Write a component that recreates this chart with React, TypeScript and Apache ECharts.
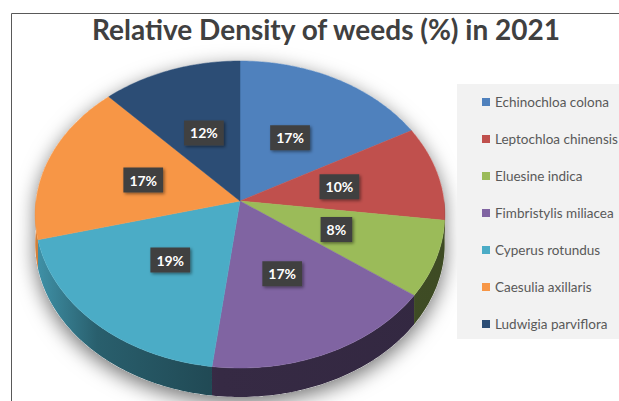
import React, { useEffect, useRef } from 'react';
import * as echarts from 'echarts';

const categories = [
  'Echinochloa colona',
  'Leptochloa chinensis',
  'Eluesine indica',
  'Fimbristylis miliacea',
  'Cyperus rotundus',
  'Caesulia axillaris',
  'Ludwigia parviflora',
];
const values = [17, 10, 8, 17, 19, 17, 12];
const colors = ['#4F81BD', '#C0504D', '#9BBB59', '#8064A2', '#4BACC6', '#F79646', '#2C4D75'];
const titleText = 'Relative Density of weeds (%) in 2021';

// layout of the tilted (perspective) pie
const CX = 240;
const CY = 201;
const RX = 204;
const RY = 152.3;
const K = 0.088;
const H = 29;
const LABEL_R = 0.5;

function proj(theta: number, r: number): [number, number] {
  const u = r * Math.sin(theta);
  const v = r * Math.cos(theta);
  const d = 1 + K * v;
  return [CX + (RX * u) / d, CY - (RY * v) / d];
}

function shade(hex: string, f: number): string {
  const n = parseInt(hex.slice(1), 16);
  const r = Math.round(((n >> 16) & 255) * f);
  const g = Math.round(((n >> 8) & 255) * f);
  const b = Math.round((n & 255) * f);
  return `rgb(${r},${g},${b})`;
}

function arcPoints(a0: number, a1: number, dy: number): number[][] {
  const pts: number[][] = [];
  const steps = Math.max(2, Math.ceil(((a1 - a0) * 180) / Math.PI));
  for (let i = 0; i <= steps; i++) {
    const a = a0 + ((a1 - a0) * i) / steps;
    const p = proj(a, 1);
    pts.push([p[0], p[1] + dy]);
  }
  return pts;
}

export default function App() {
  const ref = useRef<HTMLDivElement>(null);

  useEffect(() => {
    if (!ref.current) return;
    const chart = echarts.init(ref.current, undefined, { renderer: 'svg' });
    const total = values.reduce((s, v) => s + v, 0);
    const starts: number[] = [];
    let acc = 0;
    values.forEach((v) => {
      starts.push(acc);
      acc += v;
    });

    const renderItem = (params: any, api: any) => {
      const start = api.value(0);
      const val = api.value(1);
      const idx = params.seriesIndex;
      const color = colors[idx];
      const a0 = (start / total) * Math.PI * 2;
      const a1 = ((start + val) / total) * Math.PI * 2;
      const children: any[] = [];

      if (idx === 0) {
        const sil = [
          ...arcPoints(-Math.PI / 2, Math.PI / 2, 0),
          ...arcPoints(Math.PI / 2, (3 * Math.PI) / 2, H),
        ];
        children.push({
          type: 'polygon',
          z2: -10,
          shape: { points: sil },
          style: {
            fill: '#ffffff',
            shadowBlur: 20,
            shadowColor: 'rgba(0,0,0,0.55)',
            shadowOffsetY: 6,
          },
        });
      }

      const w0 = Math.max(a0, Math.PI / 2);
      const w1 = Math.min(a1, (3 * Math.PI) / 2);
      if (w1 > w0) {
        const top = arcPoints(w0, w1, 0);
        const bottom = arcPoints(w0, w1, H).reverse();
        children.push({
          type: 'polygon',
          z2: 1,
          shape: { points: [...top, ...bottom] },
          style: {
            fill: new echarts.graphic.LinearGradient(
              CX - RX,
              0,
              CX + RX,
              0,
              [
                { offset: 0, color: shade(color, 0.85) },
                { offset: 0.15, color: shade(color, 0.55) },
                { offset: 0.45, color: shade(color, 0.42) },
                { offset: 1, color: shade(color, 0.4) },
              ],
              true
            ),
            stroke: null,
          },
        });
      }

      const face = [[CX, CY], ...arcPoints(a0, a1, 0)];
      children.push({
        type: 'polygon',
        z2: 5,
        shape: { points: face },
        style: { fill: color, stroke: color, lineWidth: 0.5 },
      });

      const mid = (a0 + a1) / 2;
      const lp = proj(mid, LABEL_R);
      children.push({
        type: 'text',
        z2: 20,
        x: lp[0],
        y: lp[1],
        style: {
          text: `${val}%`,
          fill: '#ffffff',
          fontFamily: 'Lato',
          fontWeight: 'bold',
          fontSize: 14,
          lineHeight: 17,
          align: 'center',
          verticalAlign: 'middle',
          backgroundColor: '#404040',
          padding: [4, 6],
          shadowColor: 'rgba(0,0,0,0.45)',
          shadowBlur: 3,
          shadowOffsetX: 1.5,
          shadowOffsetY: 1.5,
        },
      });

      return { type: 'group', children };
    };

    const series = categories.map((name, i) => ({
      type: 'custom',
      name,
      coordinateSystem: 'none',
      renderItem,
      itemStyle: { color: colors[i] },
      data: [[starts[i], values[i]]],
    }));

    chart.setOption({
      animation: false,
      backgroundColor: '#ffffff',
      title: {
        text: titleText,
        left: 321,
        top: 10,
        textAlign: 'center',
        textStyle: {
          fontFamily: 'Lato',
          fontWeight: 'bold',
          fontSize: 28,
          color: '#404040',
        },
      },
      legend: {
        orient: 'vertical',
        left: 457,
        top: 84,
        backgroundColor: '#F2F2F2',
        padding: [10, 60, 7, 25],
        itemWidth: 8,
        itemHeight: 8,
        itemGap: 21,
        icon: 'rect',
        selectedMode: false,
        textStyle: { color: '#595959', fontSize: 13.5, fontFamily: 'Lato', lineHeight: 16 },
        data: categories,
      },
      graphic: [
        {
          type: 'rect',
          silent: true,
          z: -5,
          shape: { x: 11.5, y: 13.5, width: 800, height: 600 },
          style: { fill: 'none', stroke: '#595959', lineWidth: 1 },
        },
      ],
      series,
    });

    return () => {
      chart.dispose();
    };
  }, []);

  return (
    <div
      ref={ref}
      style={{ position: 'absolute', left: 0, top: 0, width: 619, height: 401 }}
    />
  );
}
